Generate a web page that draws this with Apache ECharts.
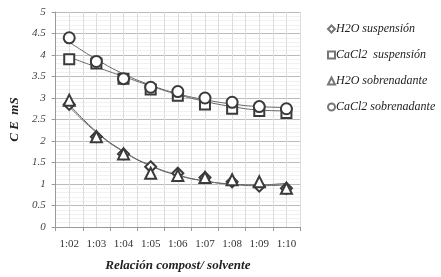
<!DOCTYPE html>
<html>
<head>
<meta charset="utf-8">
<script src="https://cdn.jsdelivr.net/npm/echarts@6/dist/echarts.min.js"></script>
<style>
html, body { margin: 0; padding: 0; background: #fff; }
#chart { width: 441px; height: 277px; }
</style>
</head>
<body>
<div id="chart"></div>
<script>
// categorías del eje x
const categories = ['1:02', '1:03', '1:04', '1:05', '1:06', '1:07', '1:08', '1:09', '1:10'];
const yTicks = [0, 0.5, 1, 1.5, 2, 2.5, 3, 3.5, 4, 4.5, 5];

// datos medidos
const h2oSuspension = [2.85, 2.1, 1.7, 1.4, 1.25, 1.15, 1.05, 0.95, 0.9];
const cacl2Suspension = [3.9, 3.8, 3.45, 3.2, 3.05, 2.85, 2.75, 2.7, 2.65];
const h2oSobrenadante = [2.95, 2.1, 1.7, 1.25, 1.2, 1.15, 1.1, 1.05, 0.9];
const cacl2Sobrenadante = [4.4, 3.85, 3.45, 3.25, 3.15, 3.0, 2.9, 2.8, 2.75];

// líneas de tendencia
const trendH2oSusp = [2.8, 2.2, 1.75, 1.42, 1.2, 1.07, 0.99, 0.96, 0.98];
const trendH2oSobr = [2.85, 2.22, 1.76, 1.43, 1.21, 1.07, 1.0, 0.98, 1.02];
const trendCaSusp = [3.95, 3.72, 3.5, 3.28, 3.08, 2.92, 2.8, 2.72, 2.7];
const trendCaSobr = [4.3, 3.9, 3.56, 3.3, 3.1, 2.96, 2.86, 2.8, 2.78];

const markColor = '#3a3a3a';

function markSeries(name, symbol, data, size) {
    return {
        name: name,
        type: 'line',
        data: data,
        symbol: symbol,
        symbolSize: size,
        showAllSymbol: true,
        lineStyle: { opacity: 0 },
        itemStyle: { color: markColor, borderWidth: 1 },
        z: 5
    };
}

function trendSeries(data) {
    return {
        type: 'line',
        data: data,
        smooth: true,
        symbol: 'none',
        lineStyle: { color: '#666', width: 1 },
        silent: true,
        z: 3
    };
}

const chart = echarts.init(document.getElementById('chart'));
const option = {
    animation: false,
    textStyle: { fontFamily: 'Liberation Serif' },
    grid: { left: 45, right: 141, top: 12, bottom: 49 },
    legend: {
        orient: 'vertical',
        left: 322,
        top: 18,
        itemGap: 14,
        itemWidth: 7,
        itemHeight: 7,
        textStyle: { fontFamily: 'Liberation Serif', fontStyle: 'italic', fontSize: 12, color: '#222', padding: [0, 0, 0, -4] },
        data: [
            { name: 'H2O suspensión', icon: 'emptyDiamond' },
            { name: 'CaCl2  suspensión', icon: 'emptyRect' },
            { name: 'H2O sobrenadante', icon: 'emptyTriangle' },
            { name: 'CaCl2 sobrenadante', icon: 'emptyCircle' }
        ],
        itemStyle: { color: '#777', borderWidth: 0.8 }
    },
    xAxis: [{
        type: 'category',
        data: categories,
        boundaryGap: true,
        name: 'Relación compost/ solvente',
        nameLocation: 'middle',
        nameGap: 32,
        nameTextStyle: { fontFamily: 'Liberation Serif', fontStyle: 'italic', fontWeight: 'bold', fontSize: 13, color: '#222' },
        axisLine: { lineStyle: { color: '#999' } },
        axisTick: { show: true, length: 4, lineStyle: { color: '#999' } },
        axisLabel: { color: '#333', fontSize: 11, margin: 12 },
        splitLine: { show: false }
    }, {
        type: 'value',
        min: 0,
        max: 18,
        interval: 1,
        show: true,
        position: 'top',
        axisLine: { show: false },
        axisTick: { show: false },
        axisLabel: { show: false },
        splitLine: { show: true, lineStyle: { color: '#ddd', width: 1 } }
    }],
    yAxis: {
        type: 'value',
        min: yTicks[0],
        max: yTicks[yTicks.length - 1],
        interval: 0.5,
        name: 'C E  mS',
        nameLocation: 'middle',
        nameGap: 31,
        nameTextStyle: { fontFamily: 'Liberation Serif', fontStyle: 'italic', fontWeight: 'bold', fontSize: 13, color: '#222' },
        axisLine: { show: true, lineStyle: { color: '#999' } },
        axisTick: { show: true, length: 4, lineStyle: { color: '#999' } },
        axisLabel: { color: '#444', fontStyle: 'italic', fontSize: 11, margin: 10 },
        splitLine: { show: true, lineStyle: { color: '#bbb', width: 1 } },
        minorTick: { show: false, splitNumber: 5 },
        minorSplitLine: { show: true, lineStyle: { color: '#e4e4e4', type: 'dotted' } }
    },
    series: [
        markSeries('H2O suspensión', 'emptyDiamond', h2oSuspension, 11),
        markSeries('CaCl2  suspensión', 'emptyRect', cacl2Suspension, 10),
        markSeries('H2O sobrenadante', 'emptyTriangle', h2oSobrenadante, 11),
        markSeries('CaCl2 sobrenadante', 'emptyCircle', cacl2Sobrenadante, 11),
        trendSeries(trendH2oSusp),
        trendSeries(trendH2oSobr),
        trendSeries(trendCaSusp),
        trendSeries(trendCaSobr)
    ]
};
chart.setOption(option);
</script>
</body>
</html>
